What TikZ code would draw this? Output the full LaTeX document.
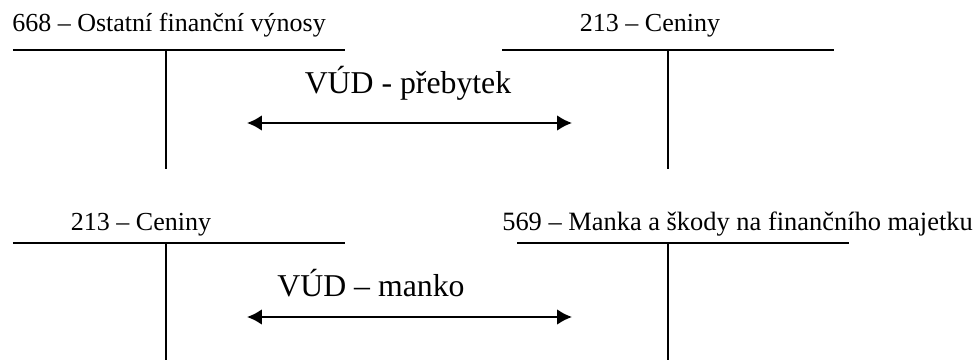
\documentclass[tikz,border=0pt]{standalone}
\usepackage{fontspec}
\setmainfont{Liberation Serif}
\usetikzlibrary{arrows.meta}
\tikzset{>={Latex[width=11pt,length=10.5pt]}}

\begin{document}
\begin{tikzpicture}

  \useasboundingbox (0,0) rectangle (24.475,9);

  \tikzset{
    acct/.style={line width=1.4pt,black},
    acctlabel/.style={inner sep=0pt,font=\fontsize{18.5}{22}\selectfont},
    vudlabel/.style={inner sep=0pt,font=\fontsize{22.6}{27}\selectfont}
  }

  % top accounts
  \coordinate (a1l) at (0.325,7.75);
  \coordinate (a1r) at (8.625,7.75);
  \coordinate (a1t) at (4.15,7.75);
  \coordinate (a1b) at (4.15,4.775);
  \coordinate (a2l) at (12.55,7.75);
  \coordinate (a2r) at (20.85,7.75);
  \coordinate (a2t) at (16.7,7.75);
  \coordinate (a2b) at (16.7,4.775);

  % bottom accounts
  \coordinate (b1l) at (0.325,2.925);
  \coordinate (b1r) at (8.625,2.925);
  \coordinate (b1t) at (4.15,2.925);
  \coordinate (b1b) at (4.15,0);
  \coordinate (b2l) at (12.925,2.925);
  \coordinate (b2r) at (21.225,2.925);
  \coordinate (b2t) at (16.7,2.925);
  \coordinate (b2b) at (16.7,0);

  % arrow ends
  \coordinate (p1) at (6.175,5.925);
  \coordinate (p2) at (14.3,5.925);
  \coordinate (m1) at (6.175,1.075);
  \coordinate (m2) at (14.3,1.075);

  \draw[acct] (a1l) -- (a1r);
  \draw[acct] (a1t) -- (a1b);
  \draw[acct] (a2l) -- (a2r);
  \draw[acct] (a2t) -- (a2b);

  \draw[acct] (b1l) -- (b1r);
  \draw[acct] (b1t) -- (b1b);
  \draw[acct] (b2l) -- (b2r);
  \draw[acct] (b2t) -- (b2b);

  \node[acctlabel,anchor=base west] (n668) at (0.3,8.2) {668 – Ostatní finanční výnosy};
  \node[acctlabel,anchor=base] (n213a) at (16.25,8.2) {213 – Ceniny};
  \node[acctlabel,anchor=base] (n213b) at (3.525,3.25) {213 – Ceniny};
  \node[acctlabel,anchor=base west,font=\fontsize{18.8}{22}\selectfont] (n569) at (12.55,3.25) {569 – Manka a škody na finančního majetku};

  \node[vudlabel,anchor=base] (prebytek) at (10.2,6.65) {VÚD - přebytek};
  \node[vudlabel,anchor=base] (manko) at (9.275,1.6) {VÚD – manko};

  \draw[acct,<->] (p1) -- (p2);
  \draw[acct,<->] (m1) -- (m2);

\end{tikzpicture}
\end{document}
